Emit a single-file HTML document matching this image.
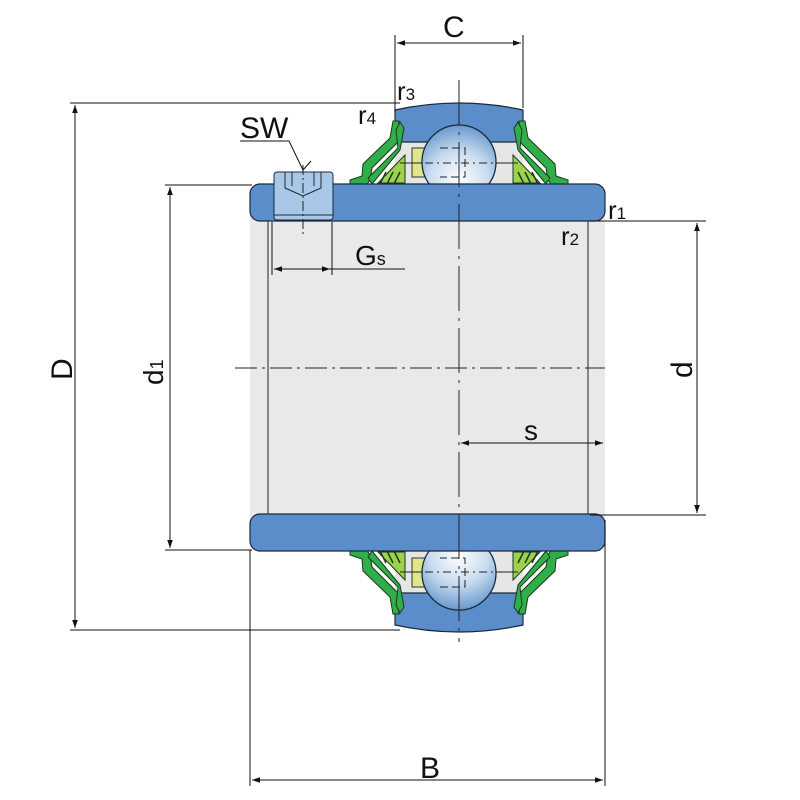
<!DOCTYPE html>
<html><head><meta charset="utf-8"><style>html,body{margin:0;padding:0;background:#fff}svg{display:block}text{font-family:"Liberation Sans",sans-serif;fill:#111}</style></head>
<body>
<svg width="800" height="800" viewBox="0 0 800 800" xmlns="http://www.w3.org/2000/svg">
<defs>
<radialGradient id="ball" cx="0.5" cy="0.75" r="0.8">
<stop offset="0" stop-color="#ffffff"/><stop offset="0.5" stop-color="#c8dcef"/><stop offset="1" stop-color="#5b8fc9"/>
</radialGradient>
<marker id="ar" viewBox="0 0 10 10" refX="10" refY="5" markerWidth="10" markerHeight="8" orient="auto-start-reverse" markerUnits="userSpaceOnUse"><path d="M0,1.5 L10,5 L0,8.5 Z" fill="#111"/></marker>
<g id="half">
<rect x="395" y="140" width="128" height="46" fill="#e6e6e6"/>
<path d="M395,110 Q459,96 523,110 L523,142 L395,142 Z" fill="#5a8dca" stroke="#1a2a3a" stroke-width="1.2"/>
<rect x="412" y="148" width="30" height="29" fill="#dfe68c" stroke="#333" stroke-width="1"/>
<path d="M393,121 L399,121 L398,142 L372,168 L370,180 L366,186 L350,186 L350,180 L362,176 L363,164 L390,138 Z" fill="#2fae4a" stroke="#1a3a1a" stroke-width="1"/>
<path d="M372,184 L400,150 L404,128 L400,122 L396,130 L398,148 L368,178 Z" fill="#2fae4a" stroke="#1a3a1a" stroke-width="1"/>
<path d="M378,183 L405,155 L405,183 Z" fill="#9fd14e" stroke="#1a3a1a" stroke-width="1"/>
<path d="M380,184 l6,-12 M387,184 l6,-12 M394,184 l6,-12" stroke="#1a3a1a" stroke-width="1.5" fill="none"/>
<g transform="translate(918,0) scale(-1,1)">
<path d="M393,121 L399,121 L398,142 L372,168 L370,180 L366,186 L350,186 L350,180 L362,176 L363,164 L390,138 Z" fill="#2fae4a" stroke="#1a3a1a" stroke-width="1"/>
<path d="M372,184 L400,150 L404,128 L400,122 L396,130 L398,148 L368,178 Z" fill="#2fae4a" stroke="#1a3a1a" stroke-width="1"/>
<path d="M378,183 L405,155 L405,183 Z" fill="#9fd14e" stroke="#1a3a1a" stroke-width="1"/>
<path d="M380,184 l6,-12 M387,184 l6,-12 M394,184 l6,-12" stroke="#1a3a1a" stroke-width="1.5" fill="none"/>
</g>
<line x1="400" y1="163" x2="518" y2="163" stroke="#222" stroke-width="1"/>
<circle cx="459" cy="162" r="37" fill="url(#ball)" stroke="#1a2a3a" stroke-width="1.3"/>
<path d="M440,148 H465 V177 H440" fill="none" stroke="#222" stroke-width="1" stroke-dasharray="8,4"/>
<line x1="425" y1="163" x2="494" y2="163" stroke="#222" stroke-width="1" stroke-dasharray="8,4,2,4"/>
<rect x="250" y="184" width="355" height="37" rx="10" fill="#5a8dca" stroke="#1a2a3a" stroke-width="1.2"/>
</g>
</defs>
<rect x="250" y="215" width="355" height="306" fill="#e9e9e9"/>
<line x1="268" y1="220" x2="268" y2="516" stroke="#222" stroke-width="1"/>
<line x1="588" y1="220" x2="588" y2="516" stroke="#222" stroke-width="1"/>
<use href="#half"/>
<use href="#half" transform="translate(0,735) scale(1,-1)"/>
<rect x="274" y="172" width="59" height="48" rx="3" fill="#a9c8e8" stroke="#1a2a3a" stroke-width="1"/>
<path d="M285,172 V188 L303,196 L321,188 V172 M292,172 V186 M314,172 V186 M274,215 H333" fill="none" stroke="#1a2a3a" stroke-width="1"/>
<line x1="303" y1="165" x2="303" y2="236" stroke="#222" stroke-width="1" stroke-dasharray="10,3,2,3"/>
<line x1="235" y1="368" x2="605" y2="368" stroke="#222" stroke-width="1" stroke-dasharray="22,5,3,5"/>
<line x1="459" y1="80" x2="459" y2="642" stroke="#222" stroke-width="1" stroke-dasharray="45,7,3,7"/>
<g stroke="#111" stroke-width="1" fill="none">
<line x1="70" y1="103" x2="400" y2="103"/><line x1="70" y1="630" x2="400" y2="630"/>
<line x1="75" y1="105" x2="75" y2="628" marker-start="url(#ar)" marker-end="url(#ar)"/>
<line x1="165" y1="185" x2="252" y2="185"/><line x1="165" y1="550" x2="252" y2="550"/>
<line x1="170" y1="187" x2="170" y2="548" marker-start="url(#ar)" marker-end="url(#ar)"/>
<line x1="590" y1="221" x2="706" y2="221"/><line x1="590" y1="515" x2="706" y2="515"/>
<line x1="697" y1="223" x2="697" y2="513" marker-start="url(#ar)" marker-end="url(#ar)"/>
<line x1="250" y1="550" x2="250" y2="786"/><line x1="605" y1="520" x2="605" y2="786"/>
<line x1="252" y1="780" x2="603" y2="780" marker-start="url(#ar)" marker-end="url(#ar)"/>
<line x1="395" y1="35" x2="395" y2="112"/><line x1="523" y1="35" x2="523" y2="108"/>
<line x1="397" y1="43" x2="521" y2="43" marker-start="url(#ar)" marker-end="url(#ar)"/>
<line x1="461" y1="443" x2="603" y2="443" marker-start="url(#ar)" marker-end="url(#ar)"/>
<line x1="272" y1="222" x2="272" y2="275"/><line x1="332" y1="222" x2="332" y2="275"/>
<line x1="274" y1="269" x2="330" y2="269" marker-start="url(#ar)" marker-end="url(#ar)"/>
<line x1="330" y1="269" x2="405" y2="269"/>
<polyline points="240,141 289,141 303,170"/><line x1="303" y1="170" x2="311" y2="161"/>
</g>
<text x="443" y="37" font-size="30">C</text>
<text x="420" y="778" font-size="30">B</text>
<text x="524" y="440" font-size="28">s</text>
<text x="355" y="265" font-size="28">G<tspan font-size="18">s</tspan></text>
<text x="240" y="138" font-size="30">SW</text>
<text x="397" y="100" font-size="26">r<tspan font-size="17">3</tspan></text>
<text x="358" y="124" font-size="26">r<tspan font-size="17">4</tspan></text>
<text x="608" y="219" font-size="26">r<tspan font-size="17">1</tspan></text>
<text x="561" y="245" font-size="26">r<tspan font-size="17">2</tspan></text>
<text transform="translate(72,380) rotate(-90)" font-size="30">D</text>
<text transform="translate(163,385) rotate(-90)" font-size="28">d<tspan font-size="18">1</tspan></text>
<text transform="translate(692,378) rotate(-90)" font-size="30">d</text>
</svg>
</body></html>
